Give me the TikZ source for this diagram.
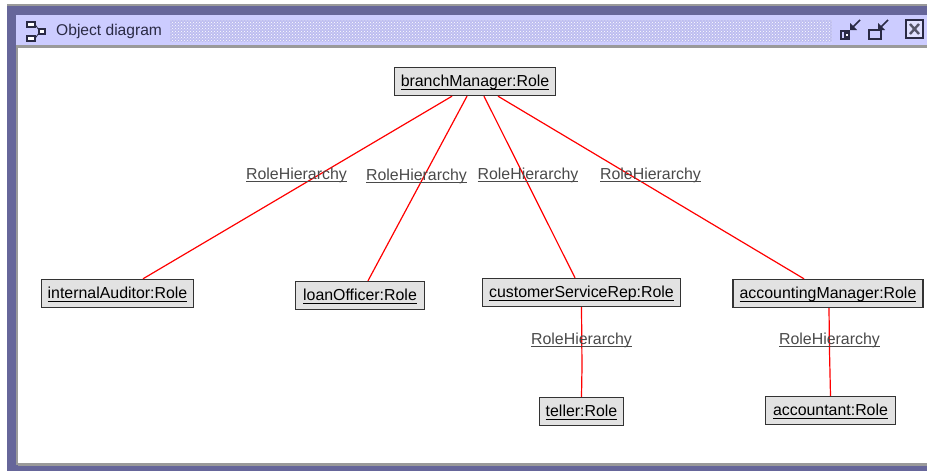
\documentclass[tikz,border=0pt]{standalone}
\usepackage{fontspec}
\setmainfont{Liberation Sans}
\usetikzlibrary{patterns}
\definecolor{winpurple}{HTML}{66669A}
\definecolor{barlav}{HTML}{CCCCFF}
\definecolor{edgegray}{HTML}{9A9A9A}
\definecolor{boxfill}{HTML}{E2E2E2}
\definecolor{boxline}{HTML}{333333}
\definecolor{labelgray}{HTML}{4A4A4A}
\definecolor{dark}{HTML}{2A2A44}
\newcommand\ulx[1]{\leavevmode\setbox0\hbox{#1}\rlap{\rule[-3.2pt]{\wd0}{1.1pt}}\box0}
\tikzset{
 obj/.style={draw=boxline,line width=1.4pt,fill=boxfill,inner sep=0pt,text=black,text height=12pt,text depth=2pt,font=\fontsize{15.9}{17}\selectfont},
 edge/.style={draw=red,line width=1.2pt},
 lab/.style={inner sep=0pt,text=labelgray,font=\fontsize{15.9}{17}\selectfont},
 ico/.style={draw=dark,line width=1.5pt}
}
\begin{document}
\begin{tikzpicture}[x=1pt,y=-1pt]
\useasboundingbox (0,0) rectangle (927,471);
% window frame
\fill[white] (0,0) rectangle (927,471);
\fill[edgegray] (7,4) rectangle (927,6);
\fill[winpurple] (7,6) rectangle (927,471);
\fill[barlav] (16,15) rectangle (927,46);
\fill[edgegray] (16,45) rectangle (927,48);
\fill[edgegray] (16,48) rectangle (18,465);
\fill[white] (18,48) rectangle (927,463);
\fill[edgegray] (18,463) rectangle (927,465.5);
% title bar
\fill[barlav!85!winpurple] (170,20) rectangle (832,42);
\fill[pattern=crosshatch dots,pattern color=white] (170,20) rectangle (832,42);
\node[anchor=west,inner sep=0pt,text=dark,font=\fontsize{15.6}{17}\selectfont] (title) at (56,31.5) {Object diagram};
% title icon
\draw[ico,fill=white] (27,22) rectangle (35,27);
\draw[ico,fill=white] (27,36) rectangle (35,41);
\draw[ico,fill=white] (39,29) rectangle (45,34);
\draw[dark,line width=.8pt] (35,24.5) -- (39,30) (35,38.5) -- (39,33);
% buttons
\draw[ico,fill=white] (845,33) rectangle (849,37);
\draw[ico] (841,39) rectangle (849,31);
\draw[dark,line width=1.6pt] (852,28) -- (860,20);
\fill[dark] (850,30) -- (850,23) -- (857,30) -- cycle;
\draw[ico] (869,30) rectangle (881,39);
\draw[dark,line width=1.6pt] (880,28) -- (888,20);
\fill[dark] (878,30) -- (878,23) -- (885,30) -- cycle;
\draw[dark,line width=1.6pt,fill=barlav!60!white] (906,20) rectangle (923,38);
\draw[dark!80,line width=2.4pt] (910,24) -- (919,34) (919,24) -- (910,34);
% objects
\node[obj,minimum width=161pt,minimum height=28pt] (bm) at (475,81.5) {\ulx{branchManager:Role}};
\node[obj,minimum width=152pt,minimum height=28pt] (ia) at (117.5,293.5) {\ulx{internalAuditor:Role}};
\node[obj,minimum width=129pt,minimum height=28pt] (lo) at (360,295.5) {\ulx{loanOfficer:Role}};
\node[obj,minimum width=198pt,minimum height=28pt] (cs) at (581.5,292.5) {\ulx{customerServiceRep:Role}};
\node[obj,minimum width=190pt,minimum height=28pt] (am) at (828,293.5) {\ulx{accountingManager:Role}};
\node[obj,minimum width=84pt,minimum height=28pt] (te) at (581.5,411.5) {\ulx{teller:Role}};
\node[obj,minimum width=130pt,minimum height=28pt] (ac) at (830.5,410.5) {\ulx{accountant:Role}};
% bend points
\coordinate (b1) at (582,367);
\coordinate (b2) at (829.5,351);
% connectors
\draw[edge] ([xshift=-23pt]bm.south) -- ([xshift=25.5pt]ia.north);
\draw[edge] ([xshift=-8pt]bm.south) -- ([xshift=8pt]lo.north);
\draw[edge] ([xshift=9pt]bm.south) -- ([xshift=-6.5pt]cs.north);
\draw[edge] ([xshift=23pt]bm.south) -- ([xshift=-24pt]am.north);
\draw[edge] (cs.south) -- (b1) -- (te.north);
\draw[edge] ([xshift=1pt]am.south) -- (b2) -- (ac.north);
% labels
\node[lab] (l1) at (296.5,175) {\ulx{RoleHierarchy}};
\node[lab] (l2) at (416.5,176) {\ulx{RoleHierarchy}};
\node[lab] (l3) at (528,175) {\ulx{RoleHierarchy}};
\node[lab] (l4) at (650.5,175) {\ulx{RoleHierarchy}};
\node[lab] (l5) at (581.5,340) {\ulx{RoleHierarchy}};
\node[lab] (l6) at (829.5,340) {\ulx{RoleHierarchy}};
\end{tikzpicture}
\end{document}
